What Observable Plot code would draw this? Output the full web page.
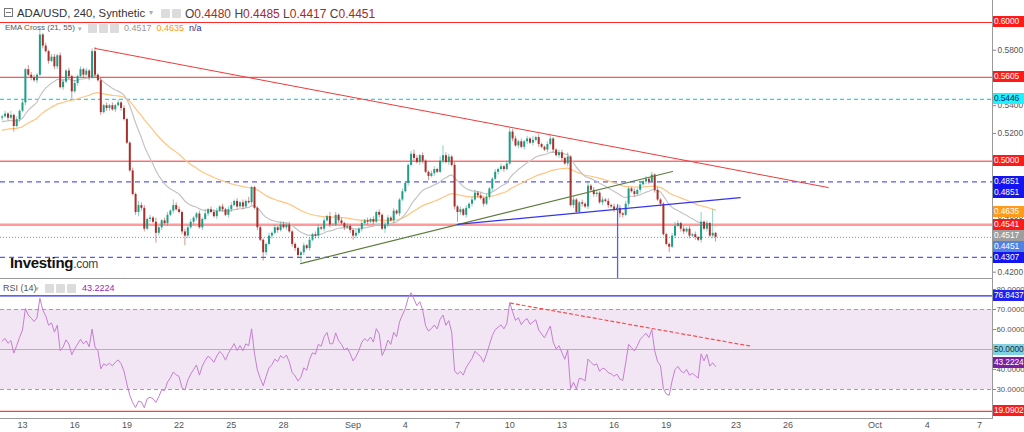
<!DOCTYPE html>
<html><head><meta charset="utf-8">
<script src="https://cdn.jsdelivr.net/npm/d3@7"></script>
<script src="https://cdn.jsdelivr.net/npm/@observablehq/plot@0.6"></script>
<style>
body{margin:0;background:#fff;font-family:Arial,"Liberation Sans",sans-serif;}
#wrap{position:relative;width:1024px;height:432px;overflow:hidden;background:#fff}
.ab{position:absolute;white-space:nowrap;line-height:1}
.ico{position:absolute;width:9px;height:9px;background:#dcdcdc;border-radius:1px}
.lbl{position:absolute;left:993px;width:31px;height:11px;font-size:8.4px;line-height:11px;padding-left:1px;box-sizing:border-box;white-space:nowrap;overflow:hidden;letter-spacing:-0.1px}
</style></head><body>
<div id="wrap">
  <div id="price" class="ab" style="left:0;top:0"></div>
  <div id="rsi" class="ab" style="left:0;top:279px"></div>
  <div class="ab" style="left:0;top:278px;width:992px;height:1px;background:#9a9a9a"></div>
  <div class="ab" style="left:992px;top:0;width:1px;height:419px;background:#9a9a9a"></div>
  <!-- header -->
  <div class="ab" style="left:4px;top:8px;width:7px;height:7px;border:1px solid #777"><div style="position:absolute;left:1px;top:3px;width:5px;height:1px;background:#777"></div></div>
  <div class="ab" style="left:17px;top:8px;font-size:11.3px;color:#333">ADA/USD, 240, Synthetic</div>
  <div class="ab" style="left:149px;top:9px;font-size:8px;color:#aaa">▾</div>
  <div class="ico" style="left:161px;top:9px"></div><div class="ico" style="left:172px;top:9px"></div>
  <div class="ab" id="ohlc" style="left:185px;top:8px;font-size:12px;color:#444"></div>
  <div class="ab" style="left:5px;top:24px;font-size:8px;color:#555">EMA Cross (21, 55)</div>
  <div class="ab" style="left:78px;top:25px;font-size:7px;color:#aaa">▾</div>
  <div class="ico" style="left:88px;top:24px"></div><div class="ico" style="left:99px;top:24px"></div><div class="ico" style="left:110px;top:24px"></div>
  <div class="ab" id="emaTxt" style="left:124px;top:24px;font-size:9px"></div>
  <div class="ab" style="left:3px;top:284px;font-size:9px;color:#555">RSI (14)</div>
  <div class="ab" style="left:35px;top:285px;font-size:7px;color:#aaa">▾</div>
  <div class="ico" style="left:45px;top:284px"></div><div class="ico" style="left:56px;top:284px"></div><div class="ico" style="left:67px;top:284px"></div>
  <div class="ab" id="rsiTxt" style="left:82px;top:284px;font-size:9px;color:#9c27b0"></div>
  <div class="ab" style="left:10px;top:255px;font-size:15px;font-weight:bold;color:#111;letter-spacing:-0.3px">Investing<span style="font-weight:normal;font-size:12px;color:#444">.com</span></div>
</div>
<script>
// ---------------- data ----------------
const candleStart = "2022-08-11T20:00:00Z";   // 4h candles
const firstOpen = 0.531;
const closes = [
  0.532,
  0.534,0.531,0.533,0.525,0.530,0.536, // Aug 12
  0.542,0.566,0.562,0.560,0.558,0.562, // Aug 13
  0.591,0.583,0.579,0.572,0.575,0.568, // Aug 14
  0.576,0.553,0.557,0.565,0.561,0.550, // Aug 15
  0.556,0.561,0.566,0.562,0.565,0.560, // Aug 16
  0.579,0.562,0.558,0.535,0.540,0.538, // Aug 17
  0.540,0.537,0.540,0.542,0.538,0.530, // Aug 18
  0.513,0.493,0.476,0.463,0.468,0.466, // Aug 19
  0.451,0.458,0.459,0.456,0.448,0.452, // Aug 20
  0.457,0.455,0.461,0.464,0.468,0.465, // Aug 21
  0.463,0.449,0.446,0.452,0.456,0.459, // Aug 22
  0.462,0.452,0.458,0.462,0.465,0.463, // Aug 23
  0.460,0.464,0.467,0.465,0.461,0.465, // Aug 24
  0.468,0.471,0.467,0.470,0.467,0.471, // Aug 25
  0.470,0.481,0.466,0.452,0.443,0.434, // Aug 26
  0.440,0.446,0.448,0.452,0.450,0.454, // Aug 27
  0.452,0.454,0.449,0.440,0.437,0.432, // Aug 28
  0.434,0.439,0.437,0.443,0.447,0.446, // Aug 29
  0.452,0.451,0.457,0.460,0.454,0.454, // Aug 30
  0.461,0.457,0.455,0.452,0.453,0.450, // Aug 31
  0.446,0.448,0.451,0.455,0.457,0.456, // Sep 1
  0.458,0.456,0.463,0.461,0.451,0.454, // Sep 2
  0.459,0.457,0.464,0.462,0.472,0.478, // Sep 3
  0.484,0.497,0.505,0.502,0.499,0.504, // Sep 4
  0.500,0.492,0.489,0.491,0.494,0.492, // Sep 5
  0.500,0.504,0.499,0.503,0.497,0.467, // Sep 6
  0.463,0.465,0.461,0.466,0.469,0.472, // Sep 7
  0.477,0.475,0.473,0.469,0.474,0.480, // Sep 8
  0.487,0.492,0.494,0.496,0.494,0.498, // Sep 9
  0.521,0.516,0.511,0.514,0.510,0.514, // Sep 10
  0.516,0.513,0.515,0.517,0.512,0.510, // Sep 11
  0.508,0.512,0.516,0.508,0.504,0.506, // Sep 12
  0.502,0.498,0.503,0.468,0.472,0.463, // Sep 13
  0.470,0.469,0.467,0.482,0.479,0.476, // Sep 14
  0.477,0.470,0.472,0.471,0.468,0.467, // Sep 15
  0.465,0.466,0.462,0.461,0.469,0.480, // Sep 16
  0.478,0.476,0.479,0.483,0.485,0.487, // Sep 17
  0.485,0.490,0.479,0.472,0.469,0.447, // Sep 18
  0.440,0.438,0.446,0.453,0.455,0.451, // Sep 19
  0.449,0.451,0.446,0.447,0.445,0.443, // Sep 20
  0.456,0.451,0.455,0.446,0.448,0.4451 // Sep 21
];
// wick lengths above / below the body, in 0.001 units (base-36 digits), one per candle
const wickUp = "1"+"213121"+"213221"+"412122"+"122121"+"212121"+"231212"+"121212"+"112132"+"212131"+"122142"+"212121"+"121312"+"221212"+"212121"+"311111"+"121212"+"212111"+"121212"+"212131"+"212121"+"121212"+"121212"+"212112"+"112321"+"211221"+"372212"+"121212"+"212121"+"121212"+"322121"+"213121"+"123112"+"213121"+"121312"+"212121"+"212121"+"121212"+"121211"+"112321"+"212121"+"7121h0";
const wickDown = "2"+"121412"+"121212"+"121212"+"212125"+"121212"+"121212"+"212121"+"111232"+"212172"+"212121"+"127212"+"212121"+"121212"+"212121"+"121216"+"212121"+"121222"+"521212"+"212121"+"121212"+"321212"+"121213"+"212121"+"121212"+"213121"+"121212"+"721212"+"121212"+"212121"+"121212"+"212121"+"121212"+"212121"+"121212"+"212121"+"213212"+"121212"+"212121"+"141212"+"212121"+"212120";
const lastOHLC = [0.4480, 0.4485, 0.4417, 0.4451];
const ema21Seed = 0.528, ema55Seed = 0.522;
const rsiSeedGain = 0.0030, rsiSeedLoss = 0.0026;
const emaLegend = ["0.4517", "0.4635", "n/a"];
const rsiLast = 43.2224;

const priceTicks = [0.42,0.44,0.46,0.48,0.50,0.52,0.54,0.56,0.58,0.60];
const levelValues = [0.6000, 0.5605, 0.5446, 0.5000, 0.4851, 0.4541, 0.4451, 0.4307];
const priceLabels = [0.6000, 0.5605, 0.5446, 0.5000, 0.4851, 0.4851, 0.4635, 0.4541, 0.4517, 0.4451, 0.4307];
const redTrend = [["2022-08-17T04:00Z", 0.5813], ["2022-09-28T07:30Z", 0.4810]];
const greenTrend = [["2022-08-28T23:30Z", 0.4262], ["2022-09-19T08:30Z", 0.4926]];
const blueTrend = [["2022-09-07T00:00Z", 0.4544], ["2022-09-23T06:00Z", 0.4738]];
const blueVertical = ["2022-09-16T04:48Z", 0.4686];
const crossMarks = [["2022-08-18T19:00Z", 0.5452], ["2022-09-03T12:00Z", 0.4587], ["2022-09-14T08:40Z", 0.4897]];

const rsiTicks = [20,30,40,50,60,70,80];
const rsiLevels = [76.8437, 50, 19.0902];
const rsiBand = [30, 70];
const rsiTrend = [["2022-09-10T01:00Z", 73.2], ["2022-09-23T21:30Z", 51.6]];

const xDomain = ["2022-08-11T17:40Z", "2022-10-07T17:56Z"];
const xTickDates = ["2022-08-13","2022-08-16","2022-08-19","2022-08-22","2022-08-25","2022-08-28","2022-09-01","2022-09-04","2022-09-07","2022-09-10","2022-09-13","2022-09-16","2022-09-19","2022-09-23","2022-09-26","2022-10-01","2022-10-04","2022-10-07"];
const xTickLabels = ["13","16","19","22","25","28","Sep","4","7","10","13","16","19","23","26","Oct","4","7"];
const priceDomain = [0.41471, 0.61586];
const rsiDomain = [15.5, 85];

// ---------------- build ----------------
const GREEN = "#1e9e86", RED = "#a8302c";
const t0 = new Date(candleStart).getTime(), H4 = 4*3600e3;
const candles = closes.map((c, i) => {
  const o = i === 0 ? firstOpen : closes[i-1];
  let hi = Math.max(o, c) + parseInt(wickUp[i], 36)/1000;
  let lo = Math.min(o, c) - parseInt(wickDown[i], 36)/1000;
  let oo = o;
  if (i === closes.length - 1) { oo = lastOHLC[0]; hi = lastOHLC[1]; lo = lastOHLC[2]; }
  return {t: new Date(t0 + i*H4), o: oo, c, hi, lo, col: c >= oo ? GREEN : RED};
});
function ema(vals, n, seed) { const k = 2/(n+1); let e = seed; return vals.map(v => (e = e + k*(v - e))); }
const e21 = ema(closes, 21, ema21Seed), e55 = ema(closes, 55, ema55Seed);
const emaData = candles.map((d, i) => ({t: d.t, a: e21[i], b: e55[i]}));
let ag = rsiSeedGain, al = rsiSeedLoss;
const rsiData = candles.map((d, i) => {
  const prev = i === 0 ? firstOpen : closes[i-1];
  const ch = closes[i] - prev;
  ag = (ag*13 + Math.max(ch, 0))/14; al = (al*13 + Math.max(-ch, 0))/14;
  return {t: d.t, v: 100 - 100/(1 + ag/al)};
});
const pt = a => ({t: new Date(a[0]), v: a[1]});
const xd = xDomain.map(d => new Date(d));

const levelStyle = [
  {stroke:"#ff2a2a", w:1, dash:null},
  {stroke:"#ff2a2a", w:1, dash:null},
  {stroke:"#22d8f0", w:1.3, dash:"4,3"},
  {stroke:"#ff2a2a", w:1, dash:null},
  {stroke:"#5a5af5", w:1.2, dash:"5,4"},
  {stroke:"#ff9a9a", w:2.5, dash:null},
  {stroke:"#6f8ff5", w:1, dash:"1,2"},
  {stroke:"#5a5af5", w:1.2, dash:"5,4"}
];
const levelMarks = levelValues.map((v, i) => Plot.ruleY([v], {stroke: levelStyle[i].stroke, strokeWidth: levelStyle[i].w, strokeDasharray: levelStyle[i].dash}));
const baseStyle = {fontFamily: "Arial, 'Liberation Sans', sans-serif", color: "#555", background: "transparent", overflow: "visible"};

const price = Plot.plot({
  width: 1024, height: 279, marginLeft: 0, marginRight: 32, marginTop: 0, marginBottom: 0,
  style: baseStyle,
  x: {type: "utc", domain: xd, axis: null},
  y: {domain: priceDomain, axis: null},
  marks: [
    ...levelMarks,
    Plot.line(emaData, {x: "t", y: "b", stroke: "#ffc580", strokeWidth: 1.2}),
    Plot.line(emaData, {x: "t", y: "a", stroke: "#c4c4c4", strokeWidth: 1.2}),
    Plot.ruleX(candles, {x: "t", y1: "lo", y2: "hi", stroke: "col", strokeOpacity: 0.5, strokeWidth: 1}),
    Plot.ruleX(candles, {x: "t", y1: "o", y2: "c", stroke: "col", strokeWidth: 2}),
    Plot.line(redTrend.map(pt), {x: "t", y: "v", stroke: "#f03a3a", strokeWidth: 1}),
    Plot.line(greenTrend.map(pt), {x: "t", y: "v", stroke: "#5c7d3c", strokeWidth: 1.2}),
    Plot.line(blueTrend.map(pt), {x: "t", y: "v", stroke: "#3535f0", strokeWidth: 1.2}),
    Plot.ruleX([pt(blueVertical)], {x: "t", y1: "v", y2: priceDomain[0], stroke: "#5060f0", strokeWidth: 1.3}),
    Plot.dot(crossMarks.map(pt), {x: "t", y: "v", symbol: "plus", r: 4.5, fill: "#4b4ba8", stroke: null}),
    Plot.axisY(priceTicks, {anchor: "right", label: null, tickFormat: d3.format(".4f"), tickSize: 3, tickPadding: 2, fontSize: 8.4, stroke: "#888"})
  ]
});
document.getElementById("price").appendChild(price);

const rsiPlot = Plot.plot({
  width: 1024, height: 153, marginLeft: 0, marginRight: 32, marginTop: 0, marginBottom: 14,
  style: baseStyle,
  x: {type: "utc", domain: xd, axis: null},
  y: {domain: rsiDomain, axis: null},
  marks: [
    Plot.rect([0], {x1: xd[0], x2: xd[1], y1: rsiBand[0], y2: rsiBand[1], fill: "#f3e6f4"}),
    Plot.ruleY(rsiBand, {stroke: "#a0a0a0", strokeDasharray: "4,3"}),
    Plot.ruleY([rsiLevels[0]], {stroke: "#2a2af5", strokeWidth: 1.2}),
    Plot.ruleY([rsiLevels[1]], {stroke: "#9fb5d0", strokeWidth: 1}),
    Plot.ruleY([rsiLevels[2]], {stroke: "#ff4040", strokeWidth: 1.3}),
    Plot.line(rsiTrend.map(pt), {x: "t", y: "v", stroke: "#f05050", strokeWidth: 1.2, strokeDasharray: "3,3"}),
    Plot.line(rsiData, {x: "t", y: "v", stroke: "#c47fd0", strokeWidth: 1}),
    Plot.ruleY([rsiDomain[0]], {stroke: "#9a9a9a"}),
    Plot.axisY(rsiTicks, {anchor: "right", label: null, tickFormat: d3.format(".4f"), tickSize: 3, tickPadding: 1, fontSize: 7.8, stroke: "#888"}),
    Plot.axisX(xTickDates.map(d => new Date(d + "T00:00Z")), {anchor: "bottom", label: null, tickSize: 0, tickPadding: 3, fontSize: 9,
      tickFormat: (d, i) => xTickLabels[i]})
  ]
});
document.getElementById("rsi").appendChild(rsiPlot);

// right-edge value labels, placed through the charts' y scales
function addLabels(chart, topOffset, items) {
  const ys = chart.scale("y");
  const arr = items.map(d => ({...d, y: ys.apply(d.v)})).sort((a, b) => a.y - b.y);
  let prev = -Infinity;
  for (const d of arr) { if (d.y < prev + 11) d.y = prev + 11; prev = d.y; }
  const wrap = document.getElementById("wrap");
  for (const d of arr) {
    const el = document.createElement("div");
    el.className = "lbl";
    el.style.top = (topOffset + d.y - 5.5) + "px";
    el.style.background = d.bg; el.style.color = d.fg;
    el.textContent = d.text;
    wrap.appendChild(el);
  }
}
const priceLabelStyle = [
  {bg:"#ff1a1a", fg:"#fff"}, {bg:"#ff1a1a", fg:"#fff"}, {bg:"#1ef2ff", fg:"#102060"}, {bg:"#ff1a1a", fg:"#fff"},
  {bg:"#1414f0", fg:"#fff"}, {bg:"#1414f0", fg:"#fff"}, {bg:"#ff9a1a", fg:"#fff"}, {bg:"#ff1a1a", fg:"#fff"},
  {bg:"#9e9e9e", fg:"#fff"}, {bg:"#4f82e6", fg:"#fff"}, {bg:"#1414f0", fg:"#fff"}
];
addLabels(price, 0, priceLabels.map((v, i) => ({v, text: v.toFixed(4), ...priceLabelStyle[i]})));
const rsiLabelValues = [rsiLevels[0], rsiLevels[1], rsiLast, rsiLevels[2]];
const rsiLabelStyle = [{bg:"#2020f0", fg:"#fff"}, {bg:"#80d2e0", fg:"#203040"}, {bg:"#7b1fa2", fg:"#fff"}, {bg:"#ff1a1a", fg:"#fff"}];
addLabels(rsiPlot, 279, rsiLabelValues.map((v, i) => ({v, text: v.toFixed(4), ...rsiLabelStyle[i]})));

// legends
const lc = candles[candles.length - 1];
const fmt = d3.format(".4f");
document.getElementById("ohlc").innerHTML = [["O", lc.o], ["H", lc.hi], ["L", lc.lo], ["C", lc.c]]
  .map(([k, v]) => `${k}<span style="color:#a52a2a">${fmt(v)}</span>`).join(" ");
document.getElementById("emaTxt").innerHTML =
  `<span style="color:#999">${emaLegend[0]}</span>&nbsp;&nbsp;<span style="color:#ff9800">${emaLegend[1]}</span>&nbsp;&nbsp;<span style="color:#2a2a90">${emaLegend[2]}</span>`;
document.getElementById("rsiTxt").textContent = fmt(rsiLast);
</script>
</body></html>
